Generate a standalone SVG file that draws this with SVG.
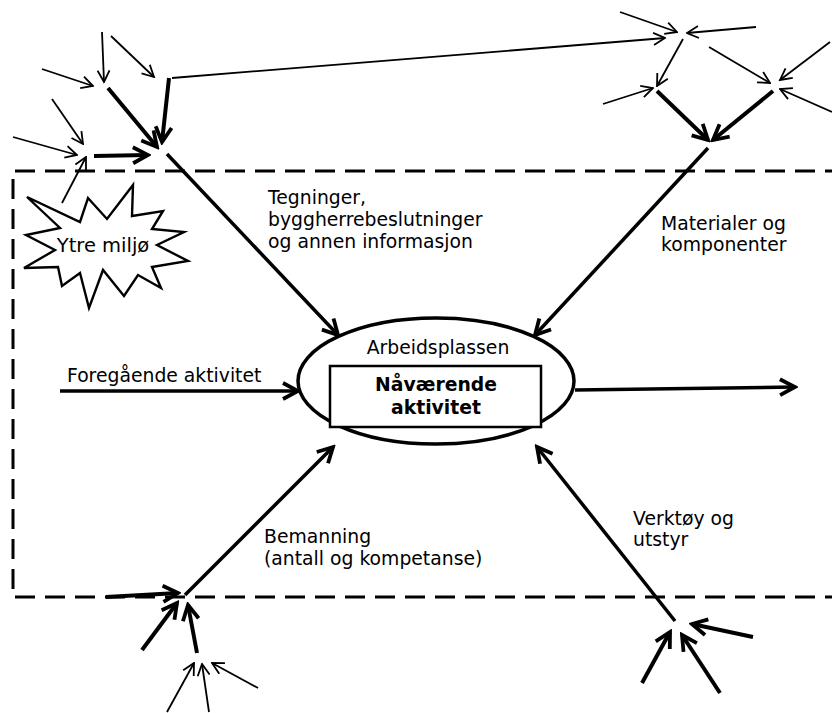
<svg xmlns="http://www.w3.org/2000/svg" width="832" height="713" viewBox="0 0 832 713">
<style>
text{font-family:"DejaVu Sans","Verdana",sans-serif;font-size:18.8px;fill:#000}
.b{font-weight:bold}
.m{text-anchor:middle}
.k{stroke:#000;fill:none;stroke-linecap:butt}
.th{stroke-width:4;marker-end:url(#ah)}
.tn{stroke-width:1.8;marker-end:url(#as)}
.md{stroke-width:3.5;marker-end:url(#ah)}
</style>
<defs>
<marker id="ah" viewBox="0 0 20 20" refX="17" refY="10" markerWidth="20" markerHeight="20" markerUnits="userSpaceOnUse" orient="auto">
<path d="M2,2 L17,10 L2,18" fill="none" stroke="#000" stroke-width="3.8" stroke-linejoin="miter"/>
</marker>
<marker id="as" viewBox="0 0 14 14" refX="12.5" refY="7" markerWidth="14" markerHeight="14" markerUnits="userSpaceOnUse" orient="auto">
<path d="M1,1 L12.5,7 L1,13" fill="none" stroke="#000" stroke-width="1.8"/>
</marker>
</defs>
<rect width="832" height="713" fill="#fff"/>
<g id="boundary">
<path d="M845,171 H13 V597 H845" fill="none" stroke="#000" stroke-width="3" stroke-dasharray="20 10"/>
</g>
<g id="connectors">
<path class="k md" d="M167,154 L338,335"/>
<path class="k md" d="M708,148 L535,335"/>
<path class="k md" d="M60,391 L298,391"/>
<path class="k md" d="M575,390 L795,387"/>
<path class="k md" d="M185,595 L333,447"/>
<path class="k md" d="M675,621 L537,447"/>
<path class="k tn" d="M102,32 L104,82"/>
<path class="k tn" d="M111,36 L154,77"/>
<path class="k tn" d="M42,69 L93,86"/>
<path class="k tn" d="M52,99 L83,144"/>
<path class="k tn" d="M13,137 L77,155"/>
<path class="k tn" d="M62,203 L86,157"/>
<path class="k th" d="M108,88 L157,147"/>
<path class="k th" d="M169,78 L162,142"/>
<path class="k th" d="M94,156 L148,155"/>
<path class="k tn" d="M172,78 L665,38"/>
<path class="k tn" d="M620,12 L677,32"/>
<path class="k tn" d="M756,27 L687,33"/>
<path class="k tn" d="M683,39 L657,86"/>
<path class="k tn" d="M709,47 L770,83"/>
<path class="k tn" d="M830,42 L780,80"/>
<path class="k tn" d="M603,104 L653,88"/>
<path class="k tn" d="M832,112 L780,89"/>
<path class="k th" d="M657,91 L708,140"/>
<path class="k th" d="M773,91 L713,140"/>
<path class="k th" d="M106,597 L178,593"/>
<path class="k th" d="M142,650 L177,603"/>
<path class="k th" d="M197,653 L188,605"/>
<path class="k tn" d="M167,712 L194,663"/>
<path class="k tn" d="M209,712 L202,664"/>
<path class="k tn" d="M258,688 L212,663"/>
<path class="k th" d="M642,683 L670,632"/>
<path class="k th" d="M720,693 L682,635"/>
<path class="k th" d="M753,637 L692,624"/>
</g>
<g id="ytre-miljo">
<polygon points="27,197 80,222 88,198 107,219 133,185 132,216 163,211 152,229 184,232 157,245 188,261 152,267 161,288 138,275 124,296 103,270 89,308 80,273 62,286 58,267 24,268 55,250 26,235 60,228" fill="#fff" stroke="#000" stroke-width="2.4" stroke-linejoin="miter"/>
<text x="103" y="252" class="m" style="font-size:19.5px">Ytre miljø</text>
</g>
<g id="arbeidsplassen">
<ellipse cx="436" cy="381" rx="138" ry="63" fill="#fff" stroke="#000" stroke-width="3.5"/>
<text x="438" y="354" class="m">Arbeidsplassen</text>
</g>
<g id="naavaerende">
<rect x="330" y="366" width="211" height="61" fill="#fff" stroke="#000" stroke-width="2.5"/>
<text x="436" y="391" class="m b">Nåværende</text>
<text x="436" y="414" class="m b">aktivitet</text>
</g>
<g id="labels">
<text x="268" y="204">Tegninger,</text>
<text x="268" y="226">byggherrebeslutninger</text>
<text x="268" y="248">og annen informasjon</text>
<text x="661" y="230">Materialer og</text>
<text x="661" y="251">komponenter</text>
<text x="67" y="382">Foregående aktivitet</text>
<text x="264" y="543">Bemanning</text>
<text x="264" y="565">(antall og kompetanse)</text>
<text x="633" y="525">Verktøy og</text>
<text x="633" y="546">utstyr</text>
</g>
</svg>
